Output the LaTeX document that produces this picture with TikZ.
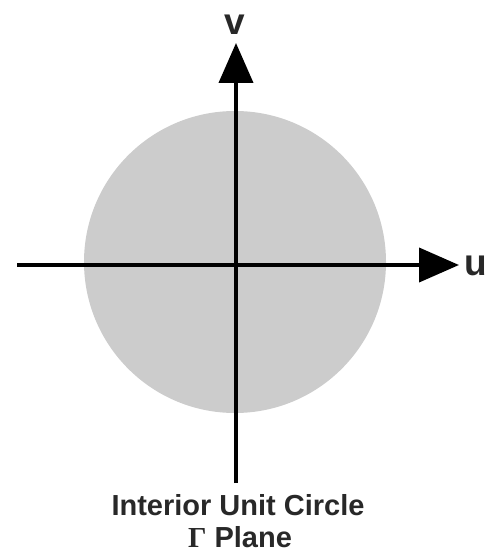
\documentclass[tikz,border=0pt]{standalone}
\usepackage{fontspec}
\setmainfont{Liberation Sans}
\newfontfamily\serifg{Liberation Serif}
\usetikzlibrary{arrows.meta}
\definecolor{diskgray}{RGB}{204,204,204}
\definecolor{txt}{RGB}{40,40,40}
\tikzset{
  axis/.style={line width=4pt, -{Triangle[length=40pt,width=34pt]}},
  axlabel/.style={font=\fontsize{37}{37}\selectfont\bfseries, text=txt, inner sep=0pt, anchor=base},
  caption/.style={font=\fontsize{29}{29}\selectfont\bfseries, text=txt, inner sep=0pt, anchor=base}
}
\begin{document}
\begin{tikzpicture}[x=1pt,y=-1pt]
\useasboundingbox (0,0) rectangle (490,553);
\node[circle, fill=diskgray, minimum size=302pt, inner sep=0pt] (disk) at (235,262) {};
\coordinate (hl) at (17,265);
\coordinate (hr) at (459,265);
\coordinate (vb) at (236,483);
\coordinate (vt) at (236,43);
\draw[axis] (hl) -- (hr);
\draw[axis] (vb) -- (vt);
\node[axlabel] (v) at (235,35) {v};
\node[axlabel] (u) at (476,275) {u};
\node[caption] (cap1) at (238,515) {Interior Unit Circle};
\node[caption] (cap2) at (240,547) {{\serifg Γ} Plane};
\end{tikzpicture}
\end{document}
